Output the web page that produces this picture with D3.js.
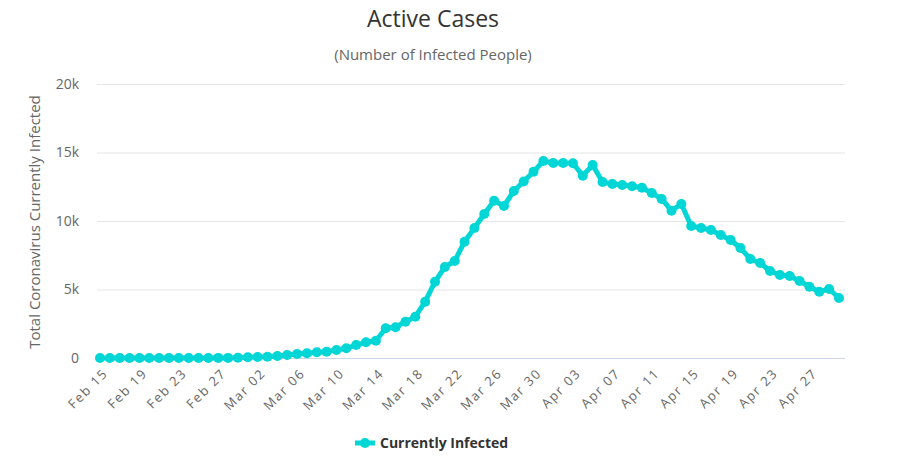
<!DOCTYPE html>
<html>
<head>
<meta charset="utf-8">
<script src="https://cdn.jsdelivr.net/npm/d3@7"></script>
<style>
  html, body { margin: 0; padding: 0; background: #fff; }
  svg { display: block; font-family: "Open Sans", "DejaVu Sans", sans-serif; }
</style>
</head>
<body>
<svg id="chart" width="900" height="468"></svg>
<script>
// ---- data ----
const dates = [
  "Feb 15","Feb 16","Feb 17","Feb 18","Feb 19","Feb 20","Feb 21","Feb 22","Feb 23","Feb 24",
  "Feb 25","Feb 26","Feb 27","Feb 28","Feb 29",
  "Mar 01","Mar 02","Mar 03","Mar 04","Mar 05","Mar 06","Mar 07","Mar 08","Mar 09","Mar 10",
  "Mar 11","Mar 12","Mar 13","Mar 14","Mar 15","Mar 16","Mar 17","Mar 18","Mar 19","Mar 20",
  "Mar 21","Mar 22","Mar 23","Mar 24","Mar 25","Mar 26","Mar 27","Mar 28","Mar 29","Mar 30","Mar 31",
  "Apr 01","Apr 02","Apr 03","Apr 04","Apr 05","Apr 06","Apr 07","Apr 08","Apr 09","Apr 10",
  "Apr 11","Apr 12","Apr 13","Apr 14","Apr 15","Apr 16","Apr 17","Apr 18","Apr 19","Apr 20",
  "Apr 21","Apr 22","Apr 23","Apr 24","Apr 25","Apr 26","Apr 27","Apr 28","Apr 29","Apr 30"
];
const currentlyInfected = [
  0,0,0,0,0,0,0,0,0,0,
  1,1,8,8,18,
  50,73,95,146,219,292,343,416,460,584,
  708,949,1146,1263,2168,2241,2650,3015,4110,5570,
  6643,7081,8490,9490,10512,11483,11096,12191,12885,13600,14381,
  14235,14235,14213,13308,14089,12848,12702,12629,12534,12432,
  12045,11607,10753,11242,9636,9490,9344,8979,8614,8030,
  7227,6935,6351,6059,5986,5621,5205,4840,5037,4380
];
const yTicks = [0, 5000, 10000, 15000, 20000];
const yTickLabels = ["0", "5k", "10k", "15k", "20k"];
const xTickLabels = ["Feb 15","Feb 19","Feb 23","Feb 27","Mar 02","Mar 06","Mar 10","Mar 14","Mar 18",
  "Mar 22","Mar 26","Mar 30","Apr 03","Apr 07","Apr 11","Apr 15","Apr 19","Apr 23","Apr 27"];
const seriesName = "Currently Infected";

// ---- layout ----
const svg = d3.select("#chart");
const plot = { left: 97, right: 845, top: 84, bottom: 358 };
const lineColor = "#00d6d6";

const x = d3.scalePoint().domain(dates).range([100, 839]);
const y = d3.scaleLinear().domain([0, 20000]).range([plot.bottom, plot.top]);

// title & subtitle
svg.append("text").attr("x", 433).attr("y", 27).attr("text-anchor", "middle")
  .attr("font-size", 23).attr("fill", "#333").text("Active Cases");
svg.append("text").attr("x", 433).attr("y", 60).attr("text-anchor", "middle")
  .attr("font-size", 15).attr("fill", "#666").text("(Number of Infected People)");

// gridlines
const yAxis = d3.axisLeft(y).tickValues(yTicks)
  .tickFormat((d, i) => yTickLabels[i])
  .tickSize(-(plot.right - plot.left)).tickPadding(18);
const gy = svg.append("g").attr("transform", `translate(${plot.left},0)`).call(yAxis);
gy.select(".domain").remove();
gy.selectAll(".tick line").attr("stroke", "#e6e6e6");
gy.selectAll(".tick text").attr("font-size", 14).attr("fill", "#666")
  .attr("font-family", "'Open Sans', sans-serif");

// x axis
const xAxis = d3.axisBottom(x).tickValues(xTickLabels).tickSize(0).tickPadding(0);
const gx = svg.append("g").attr("transform", `translate(0,${plot.bottom})`).call(xAxis);
gx.select(".domain").attr("d", `M${plot.left},0.5H${plot.right}`).attr("stroke", "#ccd6eb");
gx.selectAll(".tick text")
  .attr("font-size", 13).attr("fill", "#666").attr("font-family", "'Open Sans', sans-serif")
  .attr("letter-spacing", "1.6px")
  .attr("text-anchor", "end")
  .attr("transform", "translate(5,13) rotate(-45)")
  .attr("dy", "0.35em").attr("y", 0).attr("x", 0);

// y axis title
svg.append("text")
  .attr("transform", "translate(40,222) rotate(-90)")
  .attr("text-anchor", "middle").attr("font-size", 15).attr("fill", "#666")
  .text("Total Coronavirus Currently Infected");

// line
const line = d3.line().x((d, i) => x(dates[i])).y(d => y(d));
svg.append("path").datum(currentlyInfected)
  .attr("fill", "none").attr("stroke", lineColor).attr("stroke-width", 5)
  .attr("stroke-linejoin", "round").attr("d", line);
svg.append("g").selectAll("circle").data(currentlyInfected).join("circle")
  .attr("cx", (d, i) => x(dates[i])).attr("cy", d => y(d)).attr("r", 5)
  .attr("fill", lineColor);

// legend
const lg = svg.append("g").attr("transform", "translate(0,443)");
lg.append("line").attr("x1", 355).attr("x2", 375).attr("y1", 0).attr("y2", 0)
  .attr("stroke", lineColor).attr("stroke-width", 5);
lg.append("circle").attr("cx", 365).attr("cy", 0).attr("r", 5).attr("fill", lineColor);
lg.append("text").attr("x", 380).attr("y", 5).attr("font-size", 14).attr("font-weight", "bold")
  .attr("fill", "#333").text(seriesName);
</script>
</body>
</html>
